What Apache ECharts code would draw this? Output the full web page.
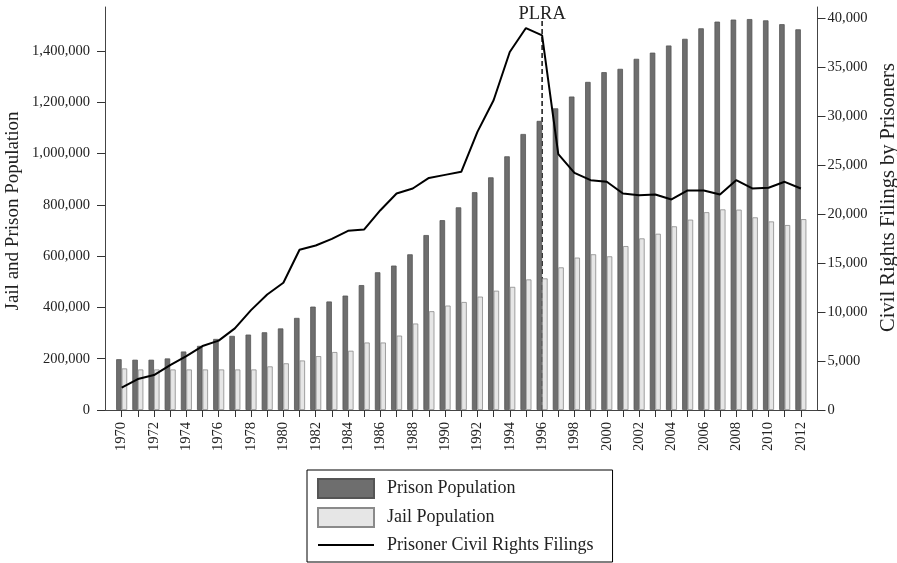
<!DOCTYPE html>
<html>
<head>
<meta charset="utf-8">
<script src="https://cdn.jsdelivr.net/npm/echarts@6/dist/echarts.min.js"></script>
<style>
html,body{margin:0;padding:0;background:#fff;}
#c{width:897px;height:563px;}
</style>
</head>
<body>
<div id="c"></div>
<script>
const years = [1970,1971,1972,1973,1974,1975,1976,1977,1978,1979,1980,1981,1982,1983,1984,1985,1986,1987,1988,1989,1990,1991,1992,1993,1994,1995,1996,1997,1998,1999,2000,2001,2002,2003,2004,2005,2006,2007,2008,2009,2010,2011,2012];
const prisonPop = [198000,196000,196000,201000,228000,250000,277000,289000,294000,303000,318000,359000,403000,423000,446000,487000,537000,563000,607000,682000,740000,790000,849000,907000,989000,1076000,1127000,1176000,1222000,1279000,1317000,1330000,1369000,1393000,1421000,1447000,1488000,1514000,1522000,1524000,1519000,1504000,1484000];
const jailPop = [162000,158000,158000,158000,158000,158000,158000,158000,158000,170000,182000,193000,210000,226000,231000,263000,263000,290000,337000,385000,407000,421000,442000,465000,480000,509000,513000,556000,594000,607000,599000,639000,669000,687000,716000,742000,771000,782000,781000,751000,735000,721000,744000];
const filings = [2280,3160,3570,4590,5510,6530,7080,8330,10200,11800,13000,16360,16800,17480,18300,18440,20400,22100,22620,23700,24010,24320,28400,31630,36560,39000,38260,26120,24220,23470,23300,22110,21940,22010,21500,22420,22420,22010,23470,22620,22690,23300,22620];
const yearTicks = years;
const yearLabels = years.filter(y => y % 2 === 0);
const leftTicks = [0,200000,400000,600000,800000,1000000,1200000,1400000];
const rightTicks = [0,5000,10000,15000,20000,25000,30000,35000,40000];
const plraYear = 1996;
const plraTop = 39800;
const plraLabel = 'PLRA';

const FONT = '"Liberation Serif", "DejaVu Serif", serif';
const fmt = v => Number(v).toLocaleString('en-US');

const chart = echarts.init(document.getElementById('c'), null, {renderer: 'canvas'});
chart.setOption({
  animation: false,
  backgroundColor: '#fff',
  grid: {left: 105, right: 79.5, top: 7, bottom: 153, containLabel: false, outerBoundsMode: 'none'},
  xAxis: {
    type: 'value',
    min: 1968.97, max: 2013.03,
    splitLine: {show: false},
    axisLine: {show: true, lineStyle: {color: '#444', width: 1}},
    axisTick: {show: true, length: 7, customValues: yearTicks, lineStyle: {color: '#333'}},
    axisLabel: {show: true, rotate: 90, margin: 12, customValues: yearLabels,
      fontFamily: FONT, fontSize: 14.5, color: '#222', formatter: v => String(v)}
  },
  yAxis: [{
    type: 'value', position: 'left',
    min: 0, max: 1571000,
    splitLine: {show: false},
    axisLine: {show: true, lineStyle: {color: '#444', width: 1}},
    axisTick: {show: true, length: 8, customValues: leftTicks, lineStyle: {color: '#333'}},
    axisLabel: {customValues: leftTicks, margin: 15, fontFamily: FONT, fontSize: 14.5, color: '#222', formatter: fmt},
    name: 'Jail and Prison Population', nameLocation: 'middle', nameGap: 82, nameMoveOverlap: false,
    nameTextStyle: {fontFamily: FONT, fontSize: 19, color: '#222', padding: [8, 5, 0, 0]}
  }, {
    type: 'value', position: 'right',
    min: 0, max: 41150,
    splitLine: {show: false},
    axisLine: {show: true, lineStyle: {color: '#444', width: 1}},
    axisTick: {show: true, length: 8, customValues: rightTicks, lineStyle: {color: '#333'}},
    axisLabel: {customValues: rightTicks, margin: 10, fontFamily: FONT, fontSize: 14.5, color: '#222', formatter: fmt},
    name: 'Civil Rights Filings by Prisoners', nameLocation: 'middle', nameGap: 60,
    nameTextStyle: {fontFamily: FONT, fontSize: 20.5, color: '#222', padding: [0, 0, 0, 22]}
  }],
  legend: {
    orient: 'vertical', left: 307, top: 470,
    itemWidth: 56, itemHeight: 19, itemGap: 8,
    padding: [8, 19, 8, 10],
    borderColor: '#000', borderWidth: 1,
    textStyle: {fontFamily: FONT, fontSize: 18, color: '#222', padding: [0, 0, 0, 8]},
    data: [
      {name: 'Prison Population', icon: 'rect'},
      {name: 'Jail Population', icon: 'rect'},
      {name: 'Prisoner Civil Rights Filings', itemStyle: {opacity: 0}}
    ]
  },
  series: [{
    type: 'line', yAxisIndex: 1, z: 1,
    data: [[plraYear, 0], [plraYear, plraTop]],
    symbol: 'circle', symbolSize: 1, showSymbol: true,
    itemStyle: {color: 'rgba(0,0,0,0)'},
    lineStyle: {color: '#111', width: 1.5, type: [5, 3]},
    label: {show: true, position: 'top', distance: -4, fontFamily: FONT, fontSize: 18.5, color: '#222',
      formatter: p => p.dataIndex === 1 ? plraLabel : ''},
    silent: true
  }, {
    name: 'Prison Population', type: 'bar', yAxisIndex: 0, z: 2,
    data: years.map((y, i) => [y, prisonPop[i]]),
    barWidth: 5.5, barGap: '0%',
    itemStyle: {color: '#6e6e6e', borderColor: '#555', borderWidth: 0.8}
  }, {
    name: 'Jail Population', type: 'bar', yAxisIndex: 0, z: 2,
    data: years.map((y, i) => [y, jailPop[i]]),
    barWidth: 5.5, barGap: '0%',
    itemStyle: {color: '#e6e6e6', borderColor: '#8a8a8a', borderWidth: 0.8}
  }, {
    name: 'Prisoner Civil Rights Filings', type: 'line', yAxisIndex: 1, z: 3,
    data: years.map((y, i) => [y, filings[i]]),
    symbol: 'none',
    lineStyle: {color: '#000', width: 2},
    itemStyle: {color: '#000'}
  }]
});
</script>
</body>
</html>
